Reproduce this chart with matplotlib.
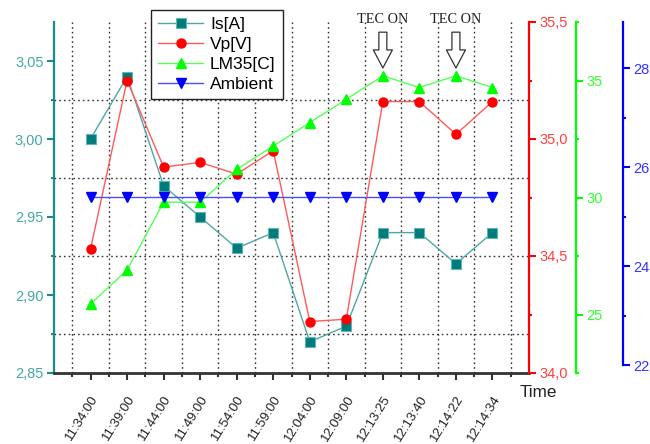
import matplotlib
matplotlib.use("Agg")
import matplotlib.pyplot as plt
from matplotlib.ticker import FuncFormatter, FixedLocator

plt.rcParams['font.family'] = ['Liberation Sans', 'DejaVu Sans']

times = ["11:34:00", "11:39:00", "11:44:00", "11:49:00", "11:54:00", "11:59:00",
         "12:04:00", "12:09:00", "12:13:25", "12:13:40", "12:14:22", "12:14:34"]
is_a = [3.00, 3.04, 2.97, 2.95, 2.93, 2.94, 2.87, 2.88, 2.94, 2.94, 2.92, 2.94]
vp_v = [34.53, 35.25, 34.88, 34.90, 34.85, 34.95, 34.22, 34.23, 35.16, 35.16, 35.02, 35.16]
lm35_c = [25.45, 26.9, 29.8, 29.8, 31.2, 32.2, 33.2, 34.2, 35.2, 34.7, 35.2, 34.7]
ambient = [25.4] * 12
tec_on_idx = [8, 10]

x = list(range(len(times)))

fig = plt.figure(figsize=(6.5, 4.44), dpi=100)
ax = fig.add_axes([54/650, 1-373/444, 475/650, 351/444])

teal = '#1a8a8a'
teal_lbl = '#45a8a8'
red = '#ff0000'
green = '#00ff00'
blue = '#0000ff'

def comma(fmt):
    return FuncFormatter(lambda v, p: (fmt % v).replace('.', ','))

# main axis (Is)
l1, = ax.plot(x, is_a, color='#4fa6a6', lw=1.0, marker='s', ms=6.5,
              mfc='#007b7b', mec='#5fb5b5', mew=0.8, label='Is[A]', zorder=3)
ax.set_xlim(-1, 12)
ax.set_ylim(2.85, 3.075)
ax.set_yticks([2.85, 2.90, 2.95, 3.00, 3.05])
ax.yaxis.set_minor_locator(FixedLocator([2.875, 2.925, 2.975, 3.025]))
ax.yaxis.set_major_formatter(comma('%.2f'))
ax.set_xticks(x)
ax.set_xticklabels(times, rotation=58, ha='right', va='top', rotation_mode='anchor', fontsize=9.5)
ax.xaxis.set_minor_locator(FixedLocator([i - 0.5 for i in range(13)]))
ax.grid(False)
ax.grid(True, which='minor', axis='both', color='#333333', ls=(0, (1.2, 2.2)), lw=1.0)
for s in ['top', 'right']:
    ax.spines[s].set_visible(False)
ax.spines['left'].set_color(teal)
ax.spines['left'].set_linewidth(1.6)
ax.spines['bottom'].set_color('#333333')
ax.spines['bottom'].set_linewidth(2.0)
ax.tick_params(axis='y', which='major', colors=teal, labelcolor=teal_lbl, length=5, width=1.5,
               labelsize=10.5, pad=2.5)
ax.tick_params(axis='y', which='minor', colors=teal, length=2.5, width=1.5)
ax.tick_params(axis='x', which='major', colors='#333333', labelcolor='#222222', length=5, width=1.5, pad=9.5)
ax.tick_params(axis='x', which='minor', colors='#333333', length=3, width=1.5)

# red axis (Vp)
ax2 = ax.twinx()
l2, = ax2.plot(x, vp_v, color='#ff5a5a', lw=1.0, marker='o', ms=6.5,
               mfc=red, mec=red, label='Vp[V]', zorder=3)
ax2.set_ylim(34.0, 35.5)
ax2.set_yticks([34.0, 34.5, 35.0, 35.5])
ax2.yaxis.set_minor_locator(FixedLocator([34.25, 34.75, 35.25]))
ax2.yaxis.set_major_formatter(comma('%.1f'))

# green axis (LM35)
ax3 = ax.twinx()
ax3.spines['right'].set_position(('axes', (576-54)/475))
l3, = ax3.plot(x, lm35_c, color='#55ff55', lw=1.0, marker='^', ms=7.5,
               mfc=green, mec=green, label='LM35[C]', zorder=3)
ax3.set_ylim(22.5, 37.5)
ax3.set_yticks([25, 30, 35])
ax3.yaxis.set_minor_locator(FixedLocator([22.5, 27.5, 32.5, 37.5]))

# blue axis (Ambient)
ax4 = ax.twinx()
ax4.spines['right'].set_position(('axes', (623-54)/475))
l4, = ax4.plot(x, ambient, color='#4d4dff', lw=1.0, marker='v', ms=7.5,
               mfc=blue, mec=blue, label='Ambient', zorder=3)
ax4.set_ylim(21.84, 28.93)
ax4.set_yticks([22, 24, 26, 28])
ax4.yaxis.set_minor_locator(FixedLocator([23, 25, 27]))
ax4.spines['right'].set_bounds(22, 28.93)

for a, c, lc in [(ax2, red, '#ff4040'), (ax3, green, '#33ff33'), (ax4, blue, '#3333ff')]:
    for s in ['top', 'left', 'bottom']:
        a.spines[s].set_visible(False)
    a.spines['right'].set_color(c)
    a.spines['right'].set_linewidth(1.6)
    a.tick_params(axis='y', which='major', colors=c, labelcolor=lc, length=5, width=1.5,
                  labelsize=10.5, pad=2.5)
    a.tick_params(axis='y', which='minor', colors=c, length=2.5, width=1.5)

# TEC ON annotations
for i in tec_on_idx:
    ax4.annotate('', xy=(i, 0.869), xycoords=('data', 'axes fraction'),
                 xytext=(i, 0.971), textcoords=('data', 'axes fraction'),
                 arrowprops=dict(arrowstyle='simple,head_length=0.52,head_width=0.55,tail_width=0.23',
                                 mutation_scale=25, fc='white', ec='#333333', lw=0.9,
                                 shrinkA=0, shrinkB=0))
    ax4.text(i, 0.99, 'TEC ON', transform=ax4.get_xaxis_transform(), ha='center', va='bottom',
             fontsize=10.3, family=['Liberation Serif', 'DejaVu Serif'], color='#222222')

fig.text(538/650, 1-392/444, 'Time', ha='center', va='center', fontsize=12.3, color='#222222')

leg = fig.legend([l1, l2, l3, l4], ['Is[A]', 'Vp[V]', 'LM35[C]', 'Ambient'],
                 loc='upper left', bbox_to_anchor=(151/650, 1-10/444), fontsize=12.5,
                 frameon=True, fancybox=False, edgecolor='#222222', framealpha=1,
                 labelspacing=0.28, handlelength=2.6, handletextpad=0.4, borderpad=0.4,
                 borderaxespad=0)
leg.get_frame().set_linewidth(1.0)

fig.savefig('out.png', dpi=100)
